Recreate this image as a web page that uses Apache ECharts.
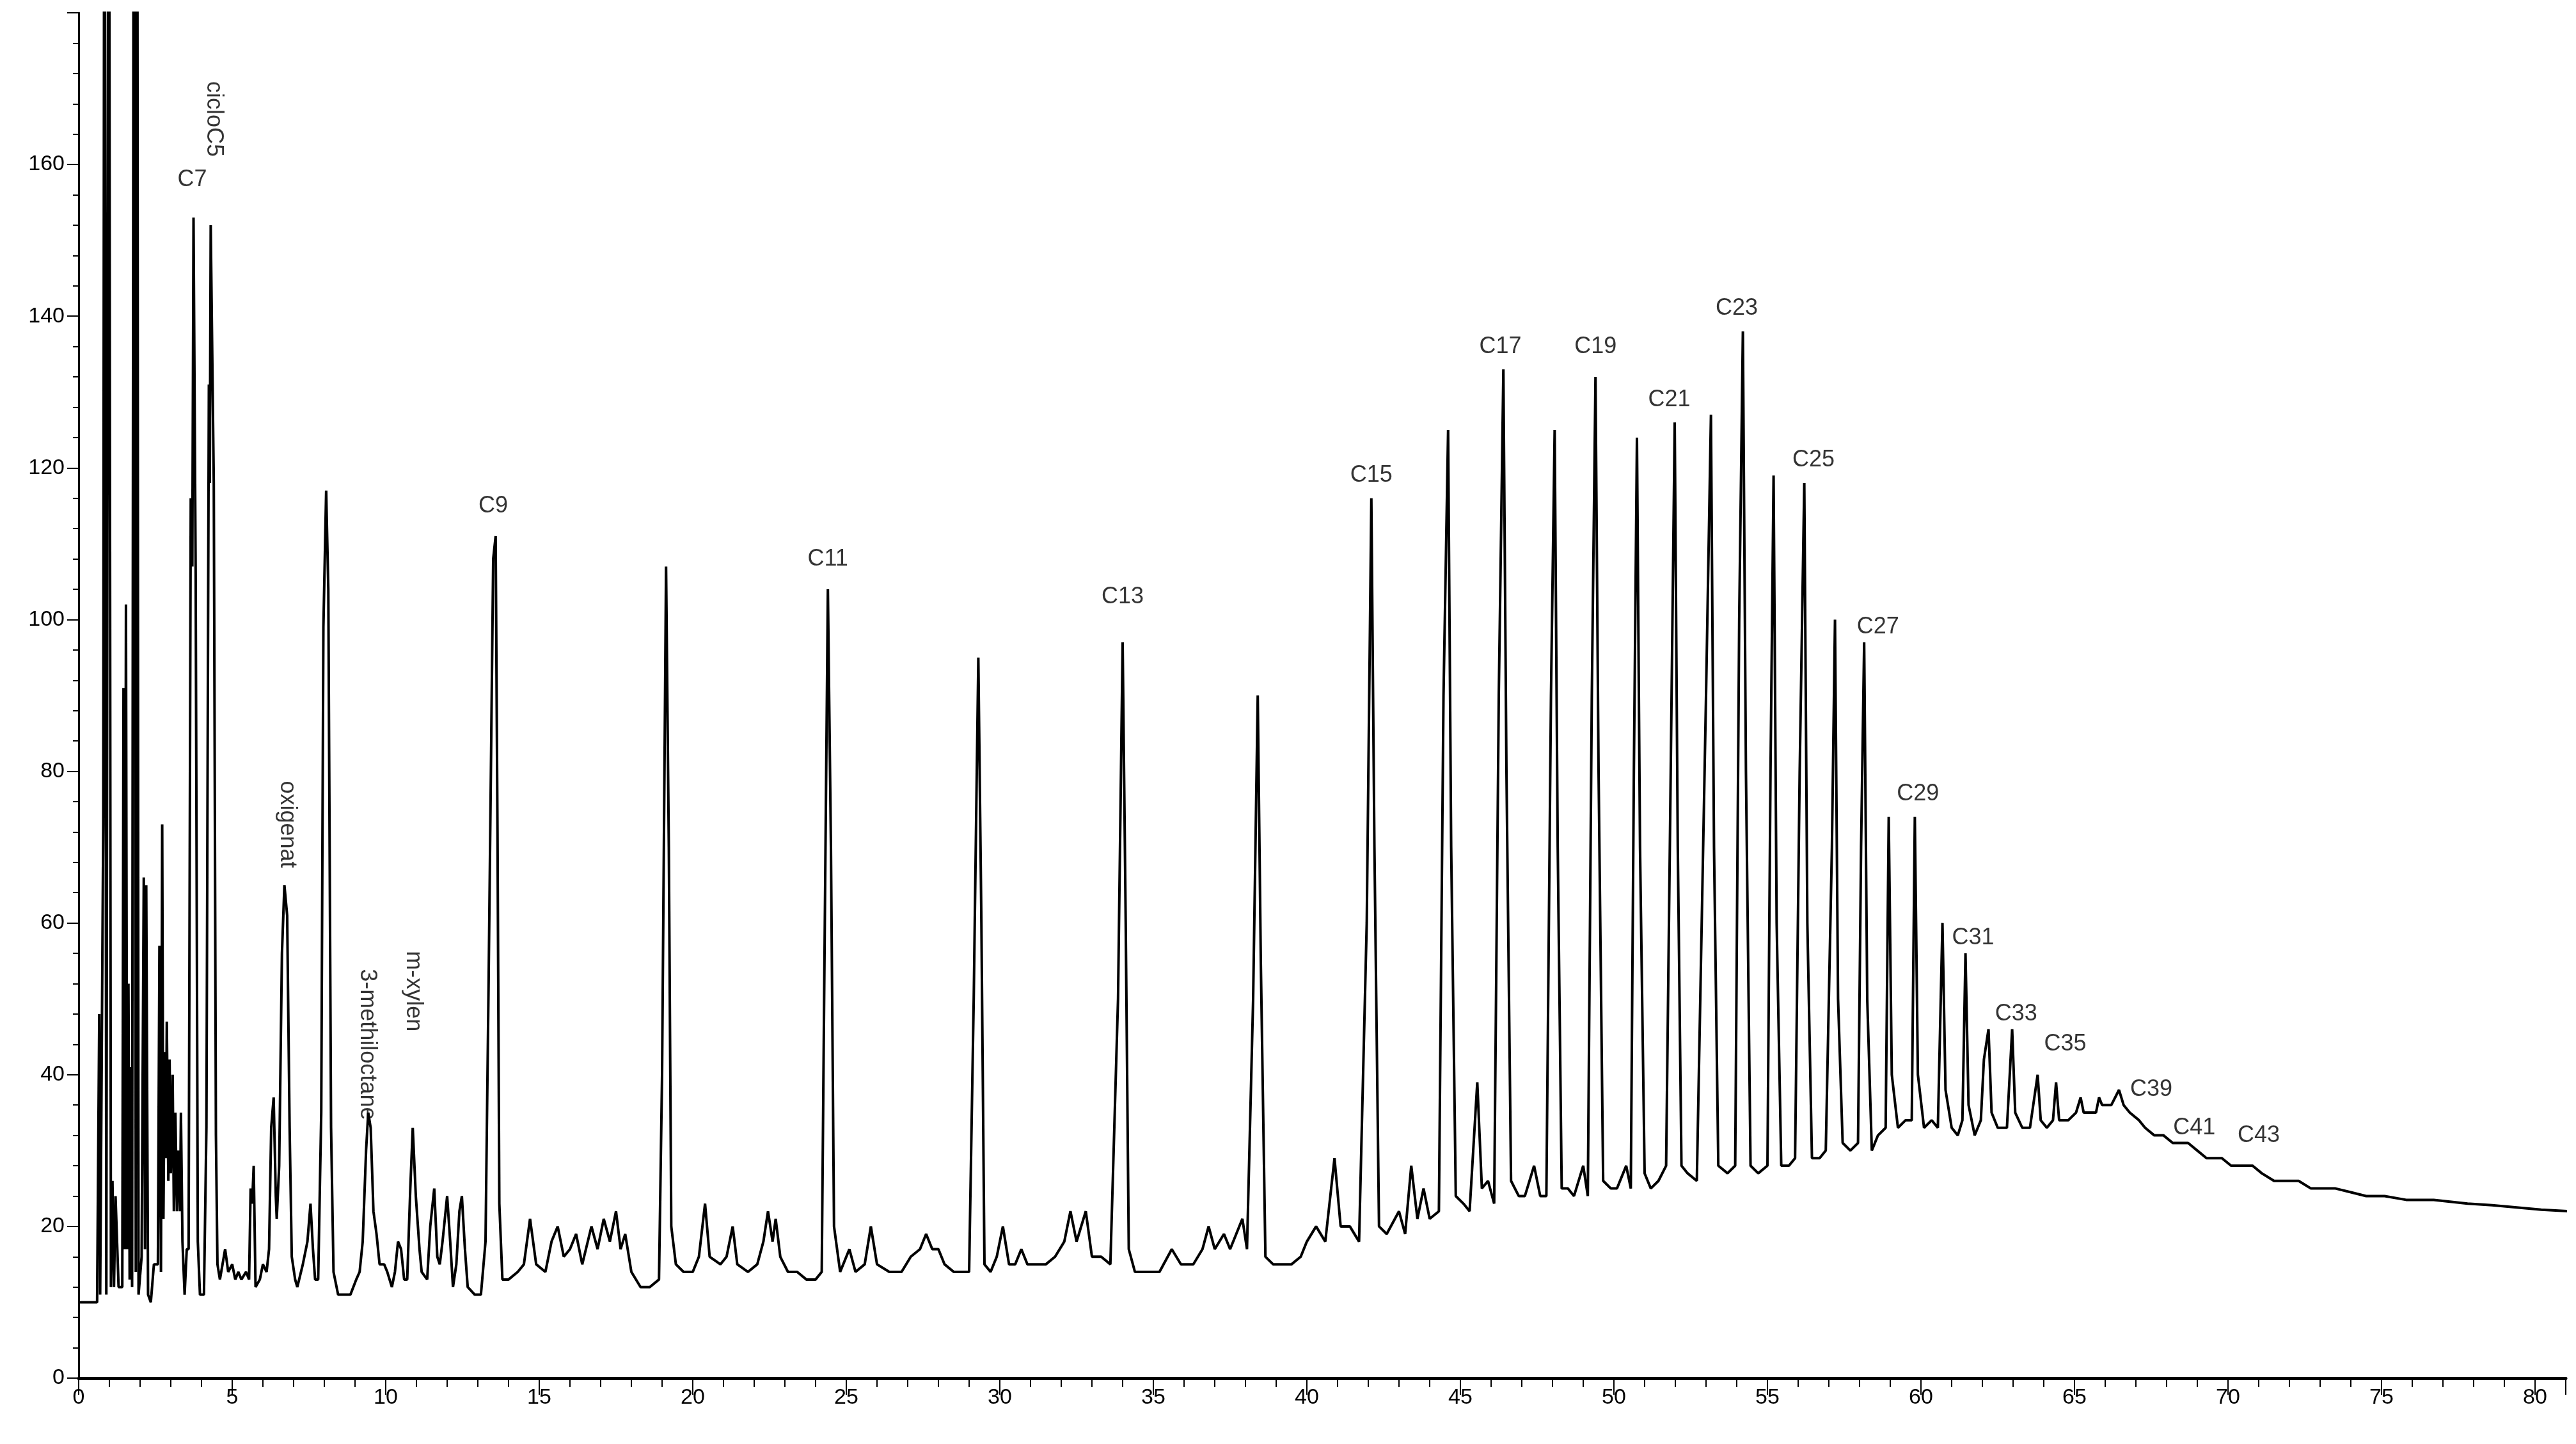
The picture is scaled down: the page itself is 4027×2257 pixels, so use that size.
<!DOCTYPE html>
<html><head><meta charset="utf-8">
<script src="https://cdn.jsdelivr.net/npm/echarts@6/dist/echarts.min.js"></script>
<style>html,body{margin:0;padding:0;background:#fff}#c{width:4027px;height:2257px}</style>
</head><body><div id="c"></div>
<script>
// time (min), signal
const segEarly = [
 [0,10],[0.6,10],[0.67,48],[0.7,11],[0.8,73],[0.84,250],[0.9,11],[0.98,250],[1.05,12],[1.1,26],[1.15,12],[1.2,24],[1.3,12],
 [1.42,12],[1.46,91],[1.5,17],[1.54,102],[1.58,17],[1.62,52],[1.66,13],[1.7,41],[1.74,12],[1.8,250],[1.86,14],[1.9,250],[1.95,11],
 [2.05,16],[2.12,66],[2.16,17],[2.2,65],[2.26,11],[2.35,10],[2.45,15],[2.58,15],[2.63,57],[2.68,14],[2.72,73],[2.76,21],[2.8,43],
 [2.84,29],[2.87,47],[2.92,26],[2.96,42],[3.0,27],[3.06,40],[3.1,22],[3.15,35],[3.2,22],[3.25,30],[3.3,22],[3.33,35],[3.38,18],
 [3.45,11],[3.52,17],[3.58,17],[3.65,116],[3.7,107],[3.74,153],[3.81,106],[3.88,18],[3.95,11],[4.08,11],[4.16,33],[4.24,131],
 [4.27,118],[4.3,152],[4.4,118],[4.47,32],[4.52,15],[4.6,13],[4.77,17],[4.87,14],[5.0,15],[5.1,13],[5.2,14],[5.3,13],[5.45,14],
 [5.55,13],[5.6,25],[5.65,23],[5.7,28],[5.76,12],[5.9,13],[6.0,15],[6.12,14],[6.2,17],[6.27,33],[6.35,37],[6.42,24],[6.45,21],
 [6.53,28],[6.62,56],[6.7,65],[6.79,61],[6.87,33],[6.94,16],[7.05,13],[7.12,12],[7.3,15],[7.45,18],[7.55,23],[7.63,17],[7.7,13],
 [7.8,13],[7.9,35],[7.97,99],[8.06,117],[8.13,104],[8.22,33],[8.3,14],[8.45,11],[8.6,11],[8.85,11],[9.04,13],[9.15,14],[9.25,18],
 [9.36,30],[9.43,35],[9.51,33],[9.6,22],[9.7,19],[9.8,15],[9.95,15],[10.05,14],[10.2,12],[10.3,14],[10.4,18],[10.5,17],[10.6,13],
 [10.7,13],[10.8,25],[10.88,33],[10.98,24],[11.1,17],[11.17,14],[11.35,13],[11.45,20],[11.58,25],[11.68,16],[11.76,15],[11.85,18],
 [12.0,24],[12.1,18],[12.19,12],[12.3,15],[12.4,22],[12.48,24],[12.58,17],[12.67,12],[12.9,11],[13.1,11],[13.25,18],[13.35,52],
 [13.5,108],[13.58,111],[13.64,72],[13.7,23],[13.8,13]
];
const segMid = [
 [14.0,13],[14.3,14],[14.5,15],[14.7,21],[14.9,15],[15.2,14],[15.4,18],[15.6,20],[15.8,16],[16.0,17],[16.2,19],[16.4,15],[16.7,20],
 [16.9,17],[17.1,21],[17.3,18],[17.5,22],[17.65,17],[17.8,19],[18.0,14],[18.3,12],[18.6,12],[18.9,13],[19.0,40],[19.13,107],[19.22,70],
 [19.3,20],[19.45,15],[19.7,14],[20.0,14],[20.2,16],[20.4,23],[20.55,16],[20.9,15],[21.1,16],[21.3,20],[21.45,15],[21.8,14],[22.1,15],
 [22.3,18],[22.45,22],[22.6,18],[22.7,21],[22.85,16],[23.1,14],[23.4,14],[23.7,13],[24.0,13],[24.2,14],[24.3,60],[24.4,104],[24.5,70],
 [24.6,20],[24.8,14],[25.1,17],[25.3,14],[25.6,15],[25.8,20],[26.0,15],[26.4,14],[26.8,14],[27.1,16],[27.4,17],[27.6,19],[27.8,17],
 [28.0,17],[28.2,15],[28.5,14],[28.8,14],[29.0,14],[29.15,50],[29.3,95],[29.4,60],[29.5,15],[29.7,14],[29.9,16],[30.1,20],[30.3,15],
 [30.5,15],[30.7,17],[30.9,15],[31.2,15],[31.5,15],[31.8,16],[32.1,18],[32.3,22],[32.5,18],[32.8,22],[33.0,16],[33.3,16],[33.6,15],
 [33.85,50],[34.0,97],[34.1,60],[34.2,17],[34.4,14],[34.7,14],[34.9,14],[35.2,14],[35.6,17],[35.9,15],[36.3,15],[36.6,17],[36.8,20],
 [37.0,17],[37.3,19],[37.5,17],[37.7,19],[37.9,21],[38.05,17],[38.25,50],[38.4,90],[38.5,55],[38.65,16],[38.9,15],[39.2,15],[39.5,15],
 [39.8,16],[40.0,18],[40.3,20],[40.6,18],[40.9,29],[41.1,20],[41.4,20],[41.7,18],[41.95,60],[42.1,116],[42.2,70],[42.35,20]
];
const segLate = [
 [42.6,19],[43.0,22],[43.2,19],[43.4,28],[43.6,21],[43.8,25],[44.0,21],[44.3,22],[44.45,90],[44.6,125],[44.7,70],[44.85,24],
 [45.1,23],[45.3,22],[45.55,39],[45.7,25],[45.9,26],[46.1,23],[46.25,90],[46.4,133],[46.5,80],[46.65,26],[46.9,24],[47.1,24],
 [47.4,28],[47.6,24],[47.8,24],[47.95,90],[48.07,125],[48.17,70],[48.3,25],[48.5,25],[48.7,24],[49.0,28],[49.15,24],[49.28,90],
 [49.4,132],[49.5,80],[49.65,26],[49.9,25],[50.1,25],[50.4,28],[50.55,25],[50.65,80],[50.75,124],[50.85,70],[51.0,27],[51.2,25],
 [51.45,26],[51.7,28],[51.85,80],[51.98,126],[52.08,70],[52.2,28],[52.4,27],[52.7,26],[53.0,90],[53.16,127],[53.26,70],[53.4,28],
 [53.7,27],[53.95,28],[54.08,100],[54.2,138],[54.3,80],[54.45,28],[54.7,27],[55.0,28],[55.1,80],[55.2,119],[55.3,60],[55.45,28],
 [55.7,28],[55.9,29],[56.05,80],[56.2,118],[56.3,60],[56.45,29],[56.7,29],[56.9,30],[57.1,70],[57.2,100],[57.3,50],[57.45,31],
 [57.7,30],[57.95,31],[58.05,70],[58.15,97],[58.25,50],[58.4,30],[58.6,32],[58.85,33],[58.95,74],[59.05,40],[59.25,33],[59.5,34],
 [59.7,34],[59.8,74],[59.9,40],[60.1,33],[60.35,34],[60.55,33],[60.7,60],[60.8,38],[61.0,33],[61.2,32],[61.35,34],[61.45,56],
 [61.55,36],[61.75,32],[61.95,34],[62.05,42],[62.2,46],[62.3,35],[62.5,33],[62.8,33],[62.97,46],[63.07,35],[63.3,33],[63.55,33],
 [63.8,40],[63.9,34],[64.1,33],[64.3,34],[64.4,39],[64.5,34],[64.8,34],[65.05,35],[65.2,37],[65.3,35],[65.5,35],[65.7,35],
 [65.8,37],[65.9,36],[66.2,36],[66.45,38],[66.6,36],[66.8,35],[67.1,34],[67.3,33],[67.6,32],[67.9,32],[68.2,31],[68.5,31],
 [68.7,31],[69.0,30],[69.3,29],[69.5,29],[69.8,29],[70.1,28],[70.3,28],[70.6,28],[70.8,28],[71.1,27],[71.5,26],[71.9,26],
 [72.3,26],[72.7,25],[73.1,25],[73.5,25],[74.0,24.5],[74.5,24],[75.1,24],[75.8,23.5],[76.7,23.5],[77.8,23],[78.6,22.8],
 [79.4,22.5],[80.2,22.2],[81.1,22]
];
const hLabels = [['C7',3.7,158],['C9',13.5,115],['C11',24.4,108],['C13',34.0,103],['C15',42.1,119],['C17',46.3,136],['C19',49.4,136],
 ['C21',51.8,129],['C23',54.0,141],['C25',56.5,121],['C27',58.6,99],['C29',59.9,77],['C31',61.7,58],['C33',63.1,48],['C35',64.7,44],
 ['C39',67.5,38],['C41',68.9,33],['C43',71.0,32]];
const vLabels = [['cicloC5',4.4,166],['oxigenat',6.8,73],['3-methiloctane',9.4,44],['m-xylen',10.9,51]];
const yTicks = [0,20,40,60,80,100,120,140,160];

const signal = segEarly.concat(segMid, segLate);
const font = 'Liberation Sans';
const chart = echarts.init(document.getElementById('c'));
chart.setOption({
  animation:false, backgroundColor:'#fff',
  grid:{left:123,right:16,top:20,bottom:103},
  xAxis:{type:'value',min:0,max:81,interval:5,
    axisLine:{onZero:false,lineStyle:{color:'#000',width:5}},
    axisTick:{length:26,lineStyle:{color:'#000',width:2}},
    minorTick:{show:true,splitNumber:5,length:14,lineStyle:{color:'#000',width:2}},
    axisLabel:{color:'#000',fontFamily:font,fontSize:34,margin:14,formatter:v=>v>80?'':v},
    splitLine:{show:false}},
  yAxis:{type:'value',min:0,max:180,interval:20,
    axisLine:{show:true,lineStyle:{color:'#000',width:3}},
    axisTick:{length:18,lineStyle:{color:'#000',width:2}},
    minorTick:{show:true,splitNumber:5,length:9,lineStyle:{color:'#000',width:2}},
    axisLabel:{color:'#000',fontFamily:font,fontSize:34,margin:22,formatter:v=>yTicks.includes(v)?v:''},
    splitLine:{show:false}},
  series:[
   {type:'line',data:signal,symbol:'none',clip:true,lineStyle:{color:'#000',width:4}},
   {type:'scatter',symbolSize:0,silent:true,data:hLabels.map(l=>({value:[l[1],l[2]],name:l[0]})),
    label:{show:true,position:'inside',formatter:p=>p.name,color:'#000',fontFamily:font,fontSize:36}},
   {type:'scatter',symbolSize:0,silent:true,data:vLabels.map(l=>({value:[l[1],l[2]],name:l[0]})),
    label:{show:true,position:'inside',rotate:-90,formatter:p=>p.name,color:'#000',fontFamily:font,fontSize:36}}
  ]
});
</script></body></html>
